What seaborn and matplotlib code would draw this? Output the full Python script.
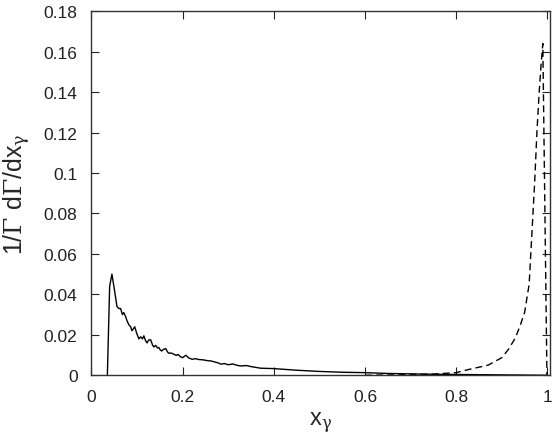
import pandas as pd
import matplotlib
matplotlib.use("Agg")
import matplotlib.pyplot as plt
import seaborn as sns

# solid curve
x_solid = [0.035, 0.040, 0.045, 0.050, 0.056, 0.060, 0.064, 0.068, 0.071, 0.075,
           0.078, 0.082, 0.086, 0.089, 0.092, 0.095, 0.099, 0.104, 0.108, 0.112,
           0.115, 0.119, 0.122, 0.126, 0.130, 0.134, 0.137, 0.141, 0.145, 0.148,
           0.151, 0.154, 0.158, 0.163, 0.167, 0.170, 0.175, 0.181, 0.186, 0.190,
           0.195, 0.200, 0.207, 0.214, 0.221, 0.228, 0.235, 0.246, 0.255, 0.262,
           0.270, 0.277, 0.284, 0.292, 0.300, 0.310, 0.318, 0.327, 0.340, 0.350,
           0.371, 0.40, 0.45, 0.50, 0.55, 0.60, 0.65, 0.70, 0.75, 0.80,
           0.85, 0.90, 0.95, 1.0]
y_solid = [0.0, 0.044, 0.050, 0.043, 0.034, 0.033, 0.033, 0.030, 0.031, 0.029,
           0.027, 0.025, 0.024, 0.022, 0.023, 0.024, 0.021, 0.018, 0.019, 0.018,
           0.0195, 0.017, 0.016, 0.0175, 0.0175, 0.015, 0.014, 0.0148, 0.0135, 0.0137,
           0.0125, 0.012, 0.0128, 0.0132, 0.0115, 0.0109, 0.011, 0.0104, 0.0098, 0.0103,
           0.0092, 0.0087, 0.0099, 0.0085, 0.0079, 0.0082, 0.0078, 0.0076, 0.0072, 0.0071,
           0.0066, 0.0062, 0.0055, 0.0058, 0.0052, 0.0056, 0.0050, 0.0046, 0.0048, 0.0043,
           0.0035, 0.0033, 0.0025, 0.0019, 0.0015, 0.0013, 0.0009, 0.0007, 0.0005, 0.0004,
           0.0003, 0.0002, 0.0001, 0.0]

# dashed curve
x_dash = [0.60, 0.70, 0.75, 0.80, 0.83, 0.87, 0.90, 0.915, 0.93, 0.94,
          0.95, 0.96, 0.966, 0.972, 0.977, 0.982, 0.986, 0.990, 0.999]
y_dash = [0.0, 0.0003, 0.0006, 0.0013, 0.003, 0.005, 0.0087, 0.0129, 0.0186, 0.0244,
          0.031, 0.045, 0.070, 0.095, 0.120, 0.140, 0.153, 0.164, 0.0]

xticks = [0, 0.2, 0.4, 0.6, 0.8, 1]
xtick_labels = ["0", "0.2", "0.4", "0.6", "0.8", "1"]
yticks = [0, 0.02, 0.04, 0.06, 0.08, 0.1, 0.12, 0.14, 0.16, 0.18]
ytick_labels = ["0", "0.02", "0.04", "0.06", "0.08", "0.1", "0.12", "0.14", "0.16", "0.18"]

sns.set_style("ticks")
plt.rcParams["font.family"] = ["Liberation Sans", "DejaVu Sans"]
plt.rcParams["mathtext.fontset"] = "dejavuserif"

solid = pd.DataFrame({"x": x_solid, "y": y_solid})
dash = pd.DataFrame({"x": x_dash, "y": y_dash})

fig, ax = plt.subplots(figsize=(5.54, 4.35), dpi=100)
sns.lineplot(data=solid, x="x", y="y", sort=False, estimator=None,
             color="black", linewidth=1.0, ax=ax)
sns.lineplot(data=dash, x="x", y="y", sort=False, estimator=None,
             color="black", linewidth=1.0, linestyle=(0, (5, 3)), ax=ax)

ax.set_xlim(0, 1.006)
ax.set_ylim(0, 0.18)
ax.set_xticks(xticks)
ax.set_xticklabels(xtick_labels)
ax.set_yticks(yticks)
ax.set_yticklabels(ytick_labels)
ax.tick_params(direction="in", top=True, right=True, length=6, width=0.8,
               labelsize=12.5, colors="#222222", pad=10)
for s in ax.spines.values():
    s.set_linewidth(1.0)
    s.set_color("#333333")

ax.set_xlabel(r"x$_\mathrm{\gamma}$", fontsize=17, labelpad=4)
ax.set_ylabel(r"1/$\mathrm{\Gamma}$ d$\mathrm{\Gamma}$/dx$_\mathrm{\gamma}$",
              fontsize=18, labelpad=8)

plt.subplots_adjust(left=0.165, right=0.993, top=0.972, bottom=0.135)
plt.savefig("out.png", dpi=100)
